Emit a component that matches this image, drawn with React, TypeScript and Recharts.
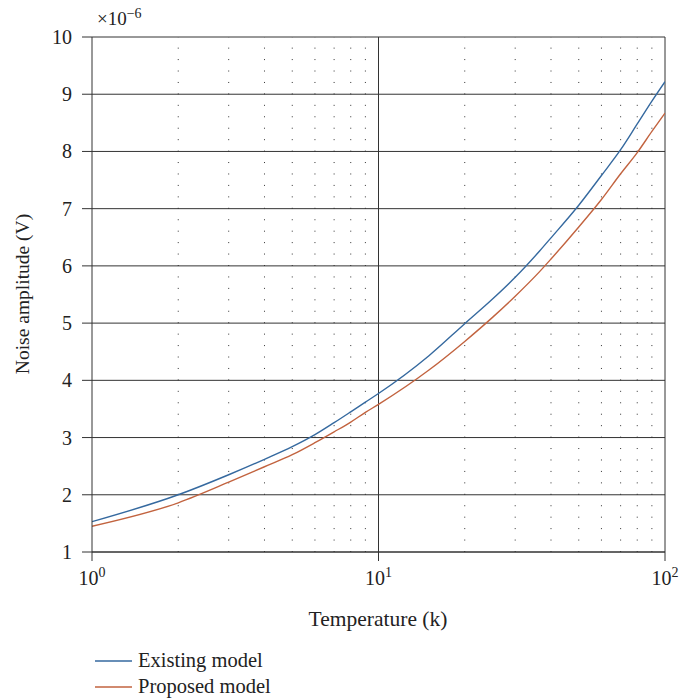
import { ComposedChart, Line, XAxis, YAxis, CartesianGrid, ReferenceLine, Legend, Label } from 'recharts'

const temperature = [1, 2, 3, 4, 5, 6, 7, 8, 9, 10, 15, 20, 25, 30, 36.5, 40, 50, 60, 70, 80, 90, 100]
const existingModel = [1.53, 2.0, 2.35, 2.62, 2.84, 3.05, 3.26, 3.45, 3.62, 3.77, 4.43, 4.99, 5.42, 5.8, 6.26, 6.49, 7.06, 7.58, 8.03, 8.48, 8.88, 9.22]
const proposedModel = [1.45, 1.86, 2.22, 2.49, 2.7, 2.91, 3.1, 3.27, 3.44, 3.58, 4.18, 4.68, 5.1, 5.47, 5.9, 6.12, 6.68, 7.16, 7.61, 7.98, 8.35, 8.67]

const xTicks = [1, 10, 100]
const yTicks = [1, 2, 3, 4, 5, 6, 7, 8, 9, 10]
const minorX = [2, 3, 4, 5, 6, 7, 8, 9, 20, 30, 40, 50, 60, 70, 80, 90]

const BLUE = '#35699f'
const RED = '#c2633f'
const INK = '#222'
const FONT = '"Liberation Serif", "DejaVu Serif", serif'

const data = temperature.map((t, i) => ({ t, existing: existingModel[i], proposed: proposedModel[i] }))

const XTick = ({ x, y, payload }: any) => {
  const exp = Math.round(Math.log10(payload.value))
  return (
    <text x={x} y={y + 22} textAnchor="middle" fill={INK} fontSize={20} fontFamily={FONT}>
      <tspan>10</tspan>
      <tspan dy={-8} fontSize={14}>{exp}</tspan>
    </text>
  )
}

const YTick = ({ x, y, payload }: any) => (
  <text x={x - 8} y={y + 7} textAnchor="end" fill={INK} fontSize={20} fontFamily={FONT}>
    {payload.value}
  </text>
)

const LegendBox = () => (
  <div style={{ fontFamily: FONT, fontSize: 20.5, color: INK, lineHeight: '26px' }}>
    {[
      { name: 'Existing model', color: BLUE },
      { name: 'Proposed model', color: RED },
    ].map(s => (
      <div key={s.name} style={{ display: 'flex', alignItems: 'center' }}>
        <svg width={46} height={26}>
          <line x1={3} x2={40} y1={14} y2={14} stroke={s.color} strokeWidth={1.3} />
        </svg>
        <span>{s.name}</span>
      </div>
    ))}
  </div>
)

export default function App() {
  return (
    <div style={{ position: 'absolute', left: 0, top: 0, width: 679, height: 699, background: '#fff' }}>
      <ComposedChart width={679} height={699} data={data} margin={{ top: 37, right: 14, bottom: 5, left: 0 }}>
        <CartesianGrid vertical={false} stroke="#333" strokeWidth={1} />
        <XAxis
          dataKey="t"
          type="number"
          scale="log"
          domain={[1, 100]}
          ticks={xTicks}
          tick={<XTick />}
          tickSize={9}
          height={90}
          stroke="#333"
          allowDataOverflow
        >
          <Label
            content={() => (
              <text x={378} y={626} textAnchor="middle" fill={INK} fontSize={21.5} fontFamily={FONT}>
                Temperature (k)
              </text>
            )}
          />
        </XAxis>
        <YAxis
          type="number"
          domain={[1, 10]}
          ticks={yTicks}
          tick={<YTick />}
          tickSize={10}
          width={92}
          stroke="#333"
        >
          <Label
            content={() => (
              <g>
                <text x={29} y={294} transform="rotate(-90 29 294)" textAnchor="middle" fill={INK} fontSize={19.5} fontFamily={FONT}>
                  Noise amplitude (V)
                </text>
                <text x={97} y={25} fill={INK} fontSize={19} fontFamily={FONT}>
                  <tspan>×10</tspan>
                  <tspan dy={-7} fontSize={14}>−6</tspan>
                </text>
              </g>
            )}
          />
        </YAxis>
        {minorX.map(v => (
          <ReferenceLine key={v} x={v} stroke="#333" strokeWidth={1} strokeDasharray="1 10.44" />
        ))}
        <ReferenceLine x={10} stroke="#333" strokeWidth={1} />
        <ReferenceLine x={100} stroke="#333" strokeWidth={1} />
        <Line dataKey="existing" type="monotone" stroke={BLUE} strokeWidth={1.4} dot={false} isAnimationActive={false} />
        <Line dataKey="proposed" type="monotone" stroke={RED} strokeWidth={1.4} dot={false} isAnimationActive={false} />
        <Legend verticalAlign="bottom" align="left" content={<LegendBox />} wrapperStyle={{ left: 92, bottom: 0, width: 240 }} />
      </ComposedChart>
    </div>
  )
}
